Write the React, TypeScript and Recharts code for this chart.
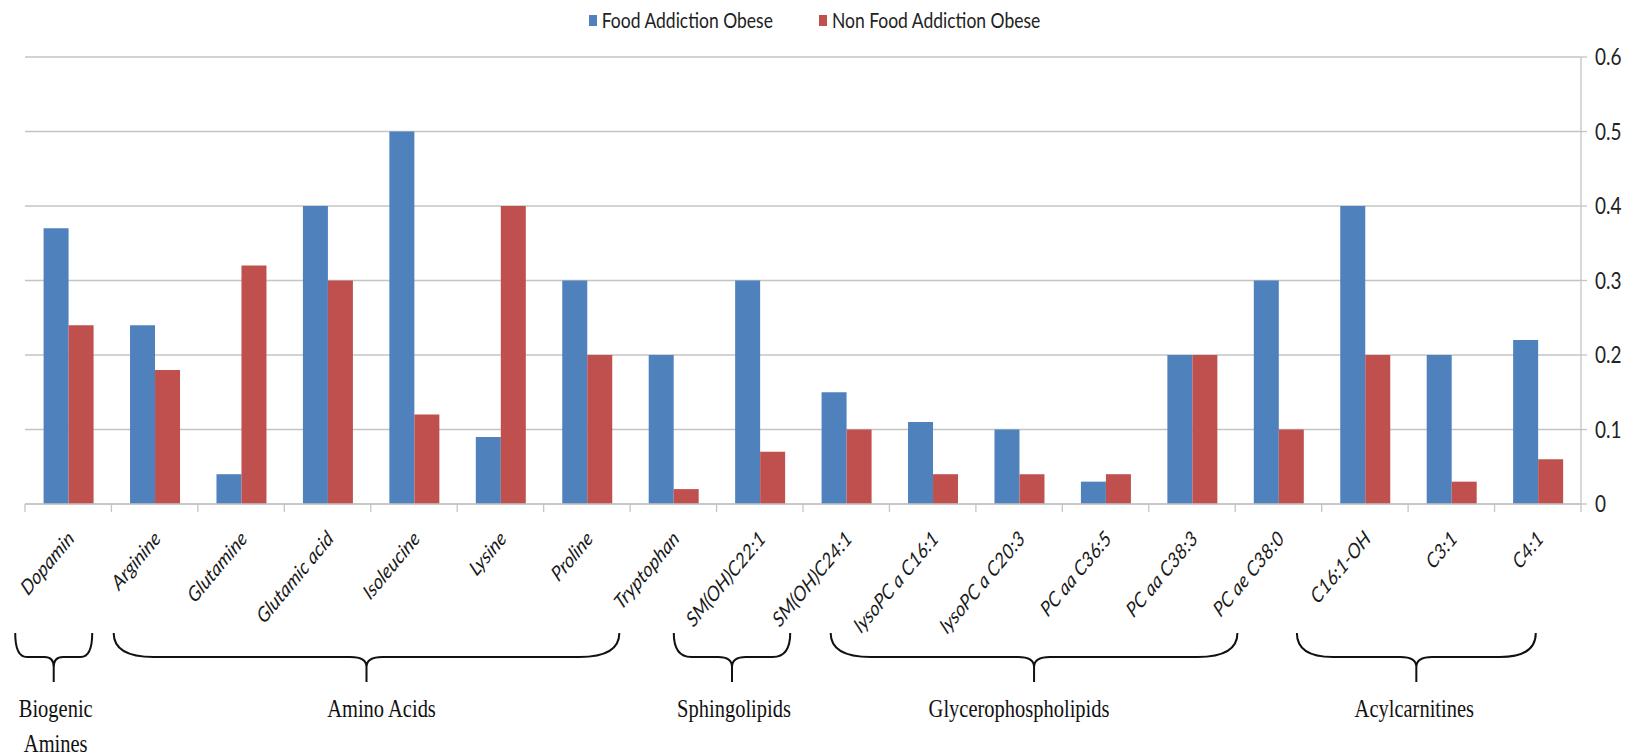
import React from "react";
import { BarChart, Bar, XAxis, YAxis, CartesianGrid, Legend } from "recharts";

const categories = [
  "Dopamin",
  "Arginine",
  "Glutamine",
  "Glutamic acid",
  "Isoleucine",
  "Lysine",
  "Proline",
  "Tryptophan",
  "SM(OH)C22:1",
  "SM(OH)C24:1",
  "lysoPC a C16:1",
  "lysoPC a C20:3",
  "PC aa C36:5",
  "PC aa C38:3",
  "PC ae C38:0",
  "C16:1-OH",
  "C3:1",
  "C4:1",
];

const foodAddiction = [0.37, 0.24, 0.04, 0.4, 0.5, 0.09, 0.3, 0.2, 0.3, 0.15, 0.11, 0.1, 0.03, 0.2, 0.3, 0.4, 0.2, 0.22];
const nonFoodAddiction = [0.24, 0.18, 0.32, 0.3, 0.12, 0.4, 0.2, 0.02, 0.07, 0.1, 0.04, 0.04, 0.04, 0.2, 0.1, 0.2, 0.03, 0.06];

const yTicks = [0, 0.1, 0.2, 0.3, 0.4, 0.5, 0.6];

// metabolite classes: label lines + first/last category index
const groupLabels = [["Biogenic", "Amines"], ["Amino Acids"], ["Sphingolipids"], ["Glycerophospholipids"], ["Acylcarnitines"]];
const groupFirst = [0, 1, 8, 10, 15];
const groupLast = [0, 7, 9, 14, 17];

// brace ends relative to first / last category centre, label shift from brace tip (px)
const braceEnds = [[-53, 24], [-41, -54], [-86, -56], [-102, -41], [-68, -2]];
const labelShift = [2, 15, 2, -15, -2];

const BLUE = "#4F81BD";
const RED = "#C0504D";
const GRID = "#C4C4C4";
const LABEL_FONT = "Lato, 'Open Sans', sans-serif";
const SERIF = "'Liberation Serif', 'Times New Roman', serif";

const data = categories.map((name, i) => ({
  name,
  food: foodAddiction[i],
  nonFood: nonFoodAddiction[i],
}));

const bracePath = (L: number, R: number, tip: number, top: number, mid: number, bot: number) => {
  const r = Math.min(40, (R - L) * 0.15);
  const r2 = Math.min(16, (R - L) * 0.12);
  const k = mid + 10;
  return [
    `M ${L} ${top}`,
    `Q ${L} ${mid} ${L + r} ${mid}`,
    `L ${tip - r2} ${mid}`,
    `Q ${tip} ${mid} ${tip} ${k}`,
    `L ${tip} ${bot}`,
    `M ${tip} ${k}`,
    `Q ${tip} ${mid} ${tip + r2} ${mid}`,
    `L ${R - r} ${mid}`,
    `Q ${R} ${mid} ${R} ${top}`,
  ].join(" ");
};

const CategoryTick = (props: any) => {
  const { x, y, index, payload } = props;
  const half = payload && payload.offset ? payload.offset : 43.2;
  const g = groupFirst.indexOf(index);
  let brace = null;
  if (g >= 0) {
    const L = x + braceEnds[g][0];
    const R = x + (groupLast[g] - groupFirst[g]) * half * 2 + braceEnds[g][1];
    const tip = (L + R) / 2;
    const lines = groupLabels[g];
    brace = (
      <g>
        <path d={bracePath(L, R, tip, y + 129, y + 153, y + 178)} fill="none" stroke="#111" strokeWidth={2} />
        {lines.map((t, j) => (
          <text
            key={t}
            transform={`translate(${tip + labelShift[g]},${y + 213 + j * 35}) scale(1,1.2)`}
            textAnchor="middle"
            fontFamily={SERIF}
            fontSize={20.5}
            fill="#111"
          >
            {t}
          </text>
        ))}
      </g>
    );
  }
  return (
    <g>
      <line x1={x - half} x2={x - half} y1={y} y2={y + 8} stroke={GRID} strokeWidth={1.3} />
      {index === categories.length - 1 && (
        <line x1={x + half} x2={x + half} y1={y} y2={y + 8} stroke={GRID} strokeWidth={1.3} />
      )}
      <text
        transform={`translate(${x + 7},${y + 36}) scale(1,1.2) rotate(-45)`}
        textAnchor="end"
        fontFamily={LABEL_FONT}
        fontStyle="italic"
        fontSize={17.5}
        fill="#1a1a1a"
      >
        {payload.value}
      </text>
      {brace}
    </g>
  );
};

const ValueTick = (props: any) => {
  const { x, y, payload } = props;
  return (
    <text
      transform={`translate(${x},${y}) scale(1,1.2)`}
      dy="0.36em"
      textAnchor="start"
      fontFamily={LABEL_FONT}
      fontSize={19}
      fill="#222"
    >
      {payload.value}
    </text>
  );
};

const LegendContent = () => {
  const items = [
    { label: "Food Addiction Obese", color: BLUE },
    { label: "Non Food Addiction Obese", color: RED },
  ];
  return (
    <div style={{ display: "flex", justifyContent: "center", alignItems: "center", gap: 46 }}>
      {items.map((it) => (
        <div key={it.label} style={{ display: "flex", alignItems: "center" }}>
          <span style={{ display: "inline-block", width: 8, height: 11, background: it.color, marginRight: 5 }} />
          <span
            style={{
              fontFamily: LABEL_FONT,
              fontSize: 17.5,
              color: "#222",
              display: "inline-block",
              transform: "scaleY(1.2)",
            }}
          >
            {it.label}
          </span>
        </div>
      ))}
    </div>
  );
};

export default function App() {
  return (
    <div style={{ position: "absolute", left: 0, top: 0, width: 1629, height: 756, background: "#fff" }}>
      <BarChart
        width={1629}
        height={756}
        data={data}
        margin={{ top: 57, right: 0, bottom: 0, left: 25 }}
        barCategoryGap="21.5%"
        barGap={0}
      >
        <CartesianGrid vertical={false} stroke={GRID} strokeWidth={1.3} yAxisId="right" />
        <XAxis
          dataKey="name"
          interval={0}
          height={252}
          tickLine={false}
          tickSize={0}
          tickMargin={0}
          axisLine={{ stroke: GRID, strokeWidth: 1.3 }}
          tick={<CategoryTick />}
        />
        <YAxis
          yAxisId="left"
          orientation="left"
          width={0}
          domain={[0, 0.6]}
          ticks={yTicks}
          tick={false}
          tickLine={false}
          axisLine={{ stroke: GRID, strokeWidth: 1.3 }}
        />
        <YAxis
          yAxisId="right"
          orientation="right"
          width={48}
          domain={[0, 0.6]}
          ticks={yTicks}
          tickSize={6}
          tickMargin={8}
          tickLine={{ stroke: GRID, strokeWidth: 1.3 }}
          axisLine={{ stroke: GRID, strokeWidth: 1.3 }}
          tick={<ValueTick />}
        />
        <Legend
          layout="horizontal"
          verticalAlign="middle"
          align="center"
          content={<LegendContent />}
          wrapperStyle={{ top: 10, left: 0, width: 1629 }}
        />
        <Bar yAxisId="right" dataKey="food" name="Food Addiction Obese" fill={BLUE} isAnimationActive={false} />
        <Bar yAxisId="right" dataKey="nonFood" name="Non Food Addiction Obese" fill={RED} isAnimationActive={false} />
      </BarChart>
    </div>
  );
}
